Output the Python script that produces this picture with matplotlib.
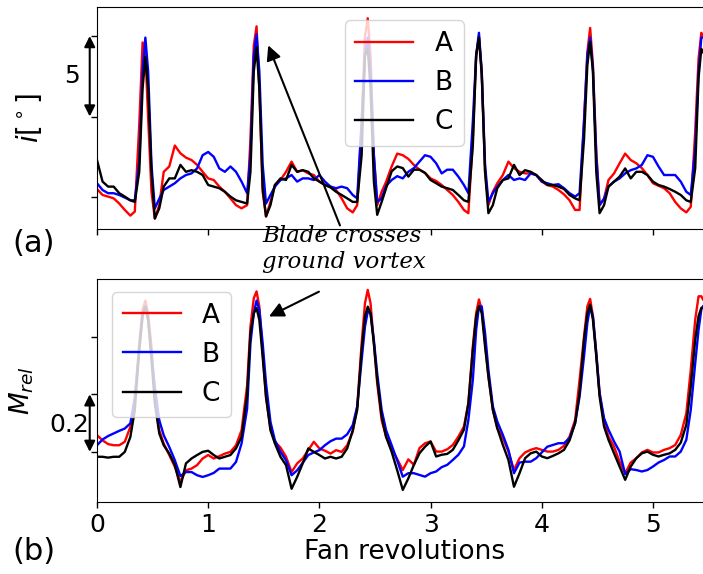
import matplotlib
matplotlib.use("Agg")
import matplotlib.pyplot as plt

# ---------------- data ----------------
revs = [0, .05, .1, .15, .2, .25, .3, .34, .38, .41, .435, .46, .49, .52, .56, .6, .65, .7, .75, .8,
        .85, .9, .95, 1.0, 1.05, 1.1, 1.15, 1.2, 1.25, 1.3, 1.35,
        1.38, 1.41, 1.435, 1.46, 1.49, 1.52, 1.56, 1.6, 1.65, 1.7, 1.75, 1.8, 1.85, 1.9, 1.95, 2.0,
        2.05, 2.1, 2.15, 2.2, 2.25, 2.3, 2.34, 2.38, 2.41, 2.435, 2.46, 2.49, 2.52, 2.56, 2.6, 2.65, 2.7,
        2.75, 2.8, 2.85, 2.9, 2.95, 3.0, 3.05, 3.1, 3.15, 3.2, 3.25, 3.3, 3.34, 3.38, 3.41, 3.435,
        3.46, 3.49, 3.52, 3.56, 3.6, 3.65, 3.7, 3.75, 3.8, 3.85, 3.9, 3.95, 4.0, 4.05,
        4.1, 4.15, 4.2, 4.25, 4.3, 4.34, 4.38, 4.41, 4.435, 4.46, 4.49, 4.52, 4.56, 4.6, 4.65, 4.7,
        4.75, 4.8, 4.85, 4.9, 4.95, 5.0, 5.05, 5.1, 5.15, 5.2, 5.25, 5.3, 5.34, 5.38, 5.41, 5.435, 5.45]

# incidence angle i [deg]
inc_A = [0.5, 0.13, 0.03, -0.08, -0.4, -0.8, -1.15, -0.9, 4.5, 9.6, 9.0, 4.9, 0.33, -1.33, -0.5, 1.57,
         1.9, 3.2, 2.72, 2.45, 2.3, 2.0, 1.57, 1.16, 1.06, 0.65, 0.33, -0.08, -0.5, -0.7, -0.5,
         3.6, 9.4, 10.6, 6.75, 0.33, -1.2, -0.3, 0.75, 1.06, 1.57, 2.2, 1.57, 1.67, 1.47, 1.37, 0.96,
         0.75, 0.65, 0.44, -0.08, -0.7, -0.95, -0.5, 4.5, 10.0, 11.1, 8.8, 2.6, -0.5, 0.33, 0.95, 1.9, 2.7,
         2.6, 2.37, 2.0, 1.7, 1.5, 1.16, 1.0, 0.75, 0.44, 0.13, -0.3, -0.8, -1.0, 3.6, 8.8, 9.96,
         7.8, 1.57, -0.5, 0.33, 0.86, 1.37, 2.2, 1.8, 1.57, 1.47, 1.47, 1.37, 0.96, 0.75,
         0.65, 0.44, 0.17, -0.2, -0.8, -0.8, 4.7, 9.0, 10.5, 8.2, 2.8, -0.5, -0.1, 1.06, 1.47, 2.1,
         2.7, 2.3, 2.1, 1.8, 1.37, 0.86, 0.7, 0.55, 0.24, -0.3, -0.7, -0.95, -0.6, 4.1, 8.6, 10.2, 10.0]
inc_B = [0.86, 0.44, 0.24, 0.24, 0.13, -0.03, -0.2, -0.2, 2.2, 7.8, 9.9, 7.8, 2.0, -0.7, -0.1, 0.44,
         0.65, 0.86, 1.16, 1.37, 1.47, 1.78, 2.6, 2.8, 2.5, 1.78, 1.57, 1.9, 1.57, 0.96, 0.24,
         2.6, 8.8, 10.1, 7.8, 2.0, -0.4, 0.13, 0.65, 1.06, 1.16, 1.37, 0.96, 1.16, 1.16, 1.06, 1.37,
         0.96, 0.65, 0.55, 0.65, 0.55, 0.13, -0.08, 4.7, 8.8, 9.9, 7.8, 2.6, -0.3, -0.08, 0.7, 1.06, 1.3,
         1.16, 1.57, 1.8, 2.2, 2.6, 2.5, 2.1, 1.47, 1.7, 1.7, 1.27, 0.75, 0.24, 4.7, 8.8, 10.2,
         7.8, 2.0, -0.3, 0.24, 0.65, 1.06, 1.37, 1.06, 1.16, 1.06, 1.47, 1.37, 0.96, 0.86,
         0.75, 0.8, 0.55, 0.24, 0.03, 0.24, 4.7, 8.8, 9.9, 8.0, 2.6, -0.5, -0.1, 0.65, 0.96, 1.16,
         1.47, 1.67, 1.78, 2.0, 2.6, 2.5, 1.9, 1.37, 1.37, 1.37, 0.96, 0.33, 0.13, 3.0, 7.8, 9.9, 9.9]
inc_C = [2.3, 0.96, 0.65, 0.65, 0.24, 0.03, -0.2, -0.3, 1.57, 6.75, 8.7, 6.75, 1.57, -1.33, -0.7, 0.65,
         1.16, 1.16, 2.0, 1.57, 1.67, 1.57, 1.37, 0.75, 0.65, 0.55, 0.33, 0.03, -0.2, -0.3, -0.4,
         1.57, 7.8, 9.3, 6.75, 0.55, -1.2, -0.5, 0.75, 1.16, 1.06, 2.0, 1.57, 1.67, 1.57, 1.16, 0.96,
         0.75, 0.6, 0.33, 0.13, -0.08, -0.3, -0.3, 2.6, 8.8, 9.2, 6.75, 0.96, -1.1, -0.3, 0.55, 1.6, 1.9,
         1.8, 1.27, 1.7, 1.7, 1.5, 1.06, 0.86, 0.65, 0.55, 0.44, 0.13, -0.2, -0.3, 3.2, 8.8, 9.9,
         7.6, 1.57, -1.0, -0.5, 0.55, 1.06, 1.16, 2.0, 1.37, 1.67, 1.57, 1.37, 1.06, 0.75,
         0.75, 0.65, 0.5, 0.13, -0.08, -0.2, 3.6, 8.2, 9.65, 7.8, 1.57, -1.0, -0.5, 0.65, 0.96, 1.27,
         1.78, 1.16, 1.57, 1.57, 1.37, 0.96, 0.75, 0.65, 0.5, 0.33, 0.13, -0.2, -0.3, 1.8, 7.4, 9.2, 9.0]

# relative Mach number M_rel
mrel_A = [0.458, 0.44, 0.427, 0.423, 0.423, 0.435, 0.487, 0.58, 0.777, 0.893, 0.925, 0.88, 0.765, 0.59,
          0.475, 0.429, 0.389, 0.348, 0.296, 0.336, 0.342, 0.354, 0.377, 0.389, 0.377, 0.385, 0.394,
          0.40, 0.423, 0.475, 0.63,
          0.835, 0.933, 0.957, 0.904, 0.742, 0.59, 0.481, 0.435, 0.415, 0.383, 0.33, 0.36, 0.377,
          0.406, 0.435, 0.412, 0.404, 0.394, 0.406, 0.40, 0.423, 0.47, 0.557, 0.777, 0.916, 0.962,
          0.916, 0.777, 0.638, 0.51, 0.452, 0.41, 0.375,
          0.337, 0.374, 0.355, 0.413, 0.43, 0.436, 0.401, 0.401, 0.409, 0.424, 0.453, 0.488, 0.569,
          0.766, 0.882, 0.929, 0.894, 0.778, 0.662, 0.546, 0.482, 0.448, 0.401, 0.337, 0.378, 0.398,
          0.407, 0.413, 0.407, 0.401,
          0.401, 0.407, 0.421, 0.453, 0.511, 0.65, 0.801, 0.905, 0.931, 0.871, 0.743, 0.604, 0.505,
          0.453, 0.418, 0.366, 0.326, 0.363, 0.378, 0.398, 0.407, 0.398, 0.398, 0.407, 0.413, 0.424,
          0.459, 0.534, 0.685, 0.859, 0.94, 0.94, 0.929]
mrel_B = [0.423, 0.443, 0.455, 0.464, 0.473, 0.481, 0.499, 0.59, 0.754, 0.87, 0.904, 0.858, 0.742,
          0.626, 0.51, 0.458, 0.417, 0.371, 0.316, 0.33, 0.33, 0.319, 0.313, 0.319, 0.327, 0.342,
          0.342, 0.342, 0.365, 0.429, 0.55,
          0.777, 0.881, 0.925, 0.893, 0.777, 0.638, 0.504, 0.44, 0.40, 0.371, 0.319, 0.336, 0.362,
          0.389, 0.398, 0.406, 0.423, 0.437, 0.446, 0.446, 0.461, 0.493, 0.557, 0.719, 0.835, 0.887,
          0.881, 0.788, 0.672, 0.545, 0.475, 0.423, 0.37,
          0.314, 0.326, 0.326, 0.32, 0.314, 0.326, 0.332, 0.347, 0.355, 0.372, 0.39, 0.419, 0.511,
          0.65, 0.824, 0.905, 0.905, 0.813, 0.685, 0.558, 0.505, 0.459, 0.407, 0.326, 0.363, 0.366,
          0.366, 0.378, 0.398, 0.418,
          0.424, 0.43, 0.43, 0.448, 0.5, 0.592, 0.732, 0.848, 0.905, 0.871, 0.743, 0.604, 0.517,
          0.477, 0.436, 0.401, 0.323, 0.34, 0.337, 0.332, 0.337, 0.349, 0.363, 0.372, 0.384, 0.384,
          0.401, 0.442, 0.546, 0.708, 0.824, 0.894, 0.905]
mrel_C = [0.383, 0.383, 0.38, 0.383, 0.383, 0.40, 0.452, 0.545, 0.754, 0.88, 0.904, 0.858, 0.719,
          0.568, 0.464, 0.423, 0.394, 0.354, 0.278, 0.36, 0.377, 0.389, 0.40, 0.404, 0.389, 0.377,
          0.383, 0.389, 0.412, 0.452, 0.6,
          0.812, 0.881, 0.899, 0.858, 0.73, 0.591, 0.475, 0.429, 0.383, 0.354, 0.272, 0.313, 0.36,
          0.412, 0.40, 0.389, 0.377, 0.383, 0.377, 0.383, 0.412, 0.475, 0.545, 0.754, 0.87, 0.904,
          0.881, 0.777, 0.65, 0.522, 0.452, 0.40, 0.336,
          0.268, 0.308, 0.355, 0.395, 0.418, 0.436, 0.384, 0.39, 0.393, 0.407, 0.44, 0.477, 0.569,
          0.755, 0.871, 0.905, 0.882, 0.766, 0.662, 0.546, 0.482, 0.424, 0.372, 0.279, 0.326, 0.378,
          0.395, 0.401, 0.384, 0.378,
          0.386, 0.395, 0.407, 0.44, 0.5, 0.604, 0.79, 0.882, 0.911, 0.859, 0.732, 0.592, 0.488,
          0.442, 0.395, 0.349, 0.303, 0.349, 0.378, 0.395, 0.401, 0.39, 0.384, 0.39, 0.395, 0.407,
          0.432, 0.494, 0.627, 0.79, 0.871, 0.9, 0.9]

labels = ["A", "B", "C"]
colors = ["red", "blue", "black"]
xticks = [0, 1, 2, 3, 4, 5]

# ---------------- figure ----------------
W, H = 703, 574
fig = plt.figure(figsize=(W / 100, H / 100), dpi=100)

def frac_box(l, t, r, b):
    return [l / W, 1 - b / H, (r - l) / W, (b - t) / H]

ax1 = fig.add_axes(frac_box(97, 7, 703, 229.3))
ax2 = fig.add_axes(frac_box(97, 279, 703, 502.3))

for ax in (ax1, ax2):
    ax.spines["right"].set_visible(False)
    ax.set_xlim(0, 5.45)
    ax.set_xticks(xticks)
    ax.tick_params(labelsize=18, length=4.5, width=1)

for y, lab, c in zip([inc_A, inc_B, inc_C], labels, colors):
    ax1.plot(revs, y, color=c, lw=1.7, label=lab)
for y, lab, c in zip([mrel_A, mrel_B, mrel_C], labels, colors):
    ax2.plot(revs, y, color=c, lw=1.7, label=lab)

ax1.set_ylim(-2.0, 11.8)
ax1.set_yticks([0, 5, 10])
ax1.set_yticklabels([])
ax1.set_xticklabels([])
ax1.set_ylabel(r"$i[^\circ]$", fontsize=20)
ax1.yaxis.set_label_coords(-0.088, 0.5)

ax2.set_ylim(0.225, 1.0)
ax2.set_yticks([0.4, 0.6, 0.8])
ax2.set_yticklabels([])
ax2.set_xticklabels([str(v) for v in xticks])
ax2.set_ylabel(r"$M_{rel}$", fontsize=19)
ax2.yaxis.set_label_coords(-0.1, 0.5)
ax2.set_xlabel("Fan revolutions", fontsize=19)
ax2.xaxis.set_label_coords(0.508, -0.165)

leg_kw = dict(fontsize=19, handlelength=2.2, borderaxespad=0, loc="upper left")
ax1.legend(bbox_to_anchor=(0.409, 0.94), **leg_kw)
ax2.legend(bbox_to_anchor=(0.025, 0.942), **leg_kw)

# scale bars left of the axes
arr = dict(arrowstyle="<|-|>", color="black", lw=1.5, mutation_scale=16, shrinkA=0, shrinkB=0)
ax1.annotate("", xy=(-0.012, 10), xytext=(-0.012, 5), xycoords=ax1.get_yaxis_transform(),
             textcoords=ax1.get_yaxis_transform(), arrowprops=arr, annotation_clip=False)
ax1.text(-0.042, 7.5, "5", transform=ax1.get_yaxis_transform(), ha="center", va="center", fontsize=18)
ax2.annotate("", xy=(-0.012, 0.6), xytext=(-0.012, 0.4), xycoords=ax2.get_yaxis_transform(),
             textcoords=ax2.get_yaxis_transform(), arrowprops=arr, annotation_clip=False)
ax2.text(-0.045, 0.494, "0.2", transform=ax2.get_yaxis_transform(), ha="center", va="center", fontsize=18)

# annotation arrows
harr = dict(arrowstyle="-|>", color="black", lw=1.5, mutation_scale=22, shrinkA=0, shrinkB=0)
ax1.annotate("", xy=(1.54, 9.42), xytext=(2.185, -1.76), arrowprops=harr, annotation_clip=False)
ax2.annotate("", xy=(1.547, 0.87), xytext=(1.996, 0.956), arrowprops=harr, annotation_clip=False)
fig.text(262 / W, 1 - 225 / H, "Blade crosses\nground vortex", family="DejaVu Serif",
         style="italic", fontsize=16.5, ha="left", va="top", linespacing=1.25)

fig.text(12 / W, 1 - 243 / H, "(a)", fontsize=22, ha="left", va="center")
fig.text(12 / W, 1 - 551 / H, "(b)", fontsize=22, ha="left", va="center")

fig.savefig("out.png", dpi=100)
